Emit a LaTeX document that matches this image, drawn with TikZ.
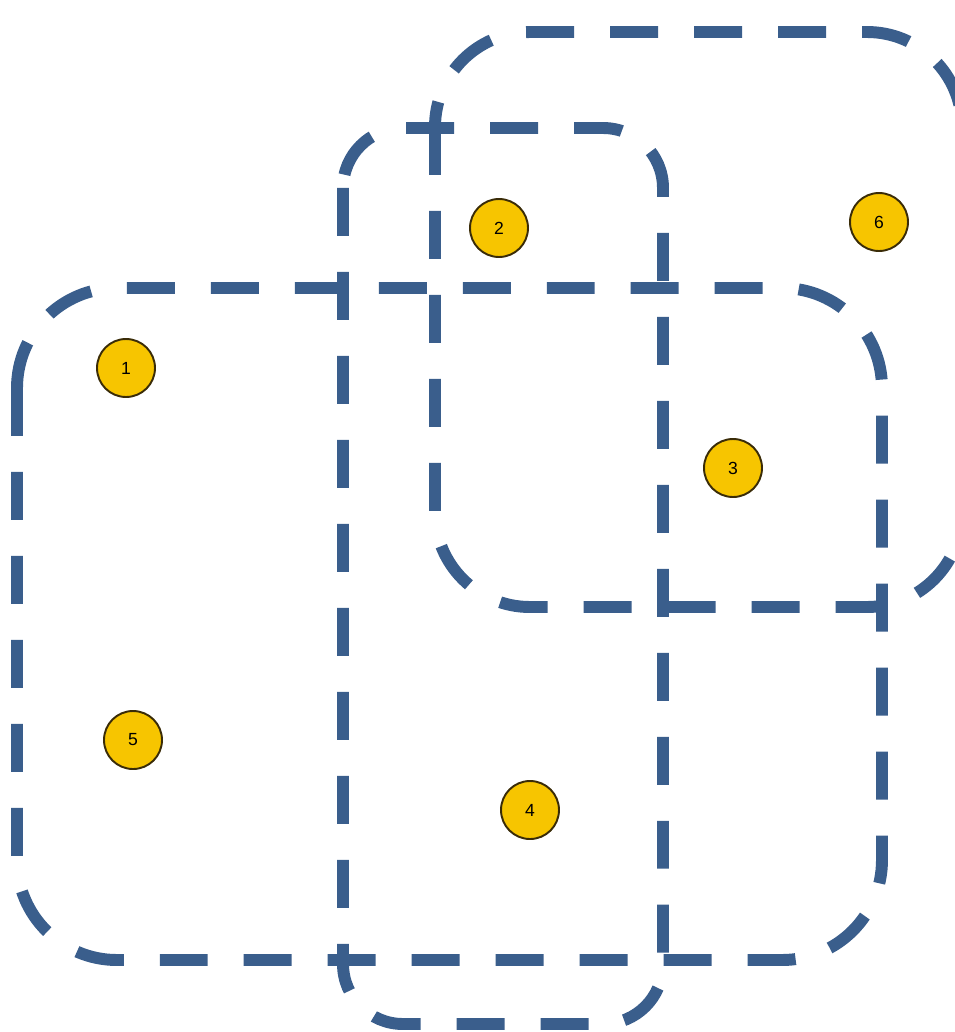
\documentclass[tikz,border=0pt]{standalone}
\usepackage{fontspec}
\setmainfont{Liberation Sans}
\usepackage{xcolor}
\definecolor{boxblue}{HTML}{3A5E8C}
\definecolor{dotyellow}{HTML}{F7C500}
\definecolor{dotline}{HTML}{3A2C08}

\begin{document}
\begin{tikzpicture}[x=0.02cm, y=-0.02cm,
    group/.style={draw=boxblue, line width=6.8pt, dash pattern=on 0.96cm off 0.72cm},
    dot/.style={circle, fill=dotyellow, draw=dotline, line width=1.1pt, minimum size=1.16cm, inner sep=0pt, font=\fontsize{10}{12}\selectfont}]
    \useasboundingbox (0,0) rectangle (955,1032);
    % the three groups
    \draw [group, rounded corners=2cm] (17,288) rectangle (882,960);
    \draw [group, rounded corners=1.2cm] (343,128) rectangle (663,1024);
    \draw [group, rounded corners=1.9cm] (435,32) rectangle (962,607);
    % numbered points
    \node [dot] (N1) at (126,368) {1};
    \node [dot] (N2) at (499,228) {2};
    \node [dot] (N3) at (733,468) {3};
    \node [dot] (N4) at (530,810) {4};
    \node [dot] (N5) at (133,740) {5};
    \node [dot] (N6) at (879,222) {6};
\end{tikzpicture}
\end{document}
